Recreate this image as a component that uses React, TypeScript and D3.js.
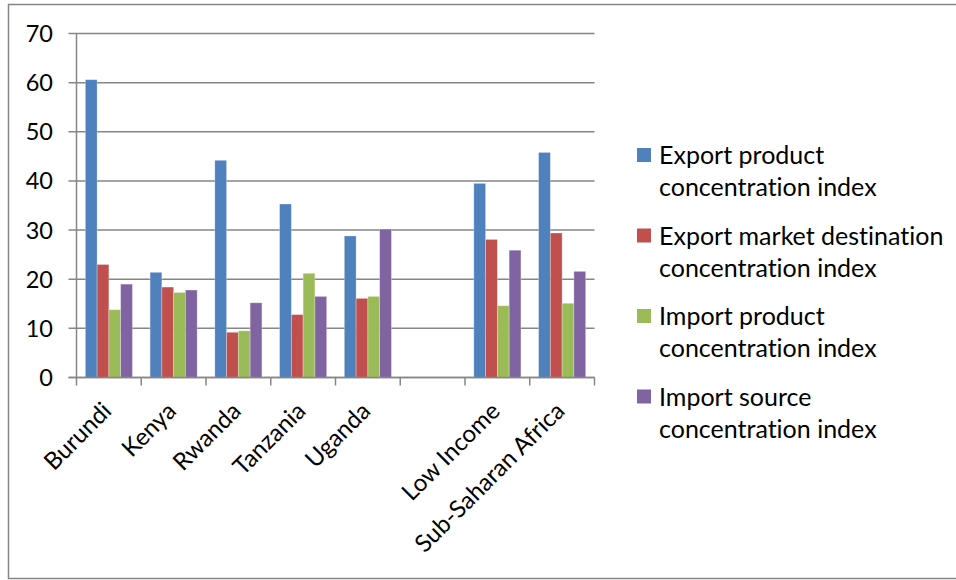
import React from "react";
import * as d3 from "d3";

// Concentration indices by country / group
const categories = ["Burundi", "Kenya", "Rwanda", "Tanzania", "Uganda", "", "Low Income", "Sub-Saharan Africa"];
const seriesNames = [
  "Export product concentration index",
  "Export market destination concentration index",
  "Import product concentration index",
  "Import source concentration index",
];
const legendLines = [
  ["Export product", "concentration index"],
  ["Export market destination", "concentration index"],
  ["Import product", "concentration index"],
  ["Import source", "concentration index"],
];
const exportProduct = [60.6, 21.4, 44.2, 35.3, 28.8, null, 39.5, 45.8];
const exportMarket = [23.0, 18.4, 9.2, 12.8, 16.1, null, 28.1, 29.4];
const importProduct = [13.8, 17.3, 9.5, 21.2, 16.5, null, 14.6, 15.1];
const importSource = [19.0, 17.8, 15.2, 16.5, 30.2, null, 25.9, 21.6];
const yTicks = [0, 10, 20, 30, 40, 50, 60, 70];
const colors = ["#4F81BD", "#C0504D", "#9BBB59", "#8064A2"];

const W = 956;
const H = 580;
const FONT = "Lato, 'Open Sans', sans-serif";

export default function App() {
  const series = [exportProduct, exportMarket, importProduct, importSource];
  const left = 76.5;
  const right = 594.5;
  const top = 33.5;
  const bottom = 377.5;

  const x = d3.scaleBand<string>().domain(categories.map((c, i) => String(i))).range([left, right]).paddingInner(0).paddingOuter(0);
  const y = d3.scaleLinear().domain([0, 70]).range([bottom, top]);
  const bw = x.bandwidth();
  const barW = bw / 5.5;
  const inner = d3.scaleBand<number>().domain([0, 1, 2, 3]).range([barW * 0.75, barW * 4.75]);

  const grid = "#868686";

  return (
    <div style={{ position: "fixed", left: 0, top: 0 }}>
      <svg
        width={W}
        height={H}
        style={{ display: "block", background: "#fff", fontVariantLigatures: "none" }}
        fontFamily={FONT}
      >
        <rect x={8.5} y={4.5} width={W + 10} height={574} fill="#fff" stroke="#868686" strokeWidth={1.5} />
        {/* gridlines */}
        {yTicks.map((t) => (
          <line key={"g" + t} x1={left - 8} x2={right} y1={y(t)} y2={y(t)} stroke={grid} strokeWidth={1.5} />
        ))}
        {/* bars */}
        {series.map((vals, s) =>
          vals.map((v, i) =>
            v == null ? null : (
              <rect
                key={`b${s}-${i}`}
                x={(x(String(i)) as number) + (inner(s) as number)}
                y={y(v)}
                width={barW}
                height={y(0) - y(v)}
                fill={colors[s]}
                stroke="rgba(255,255,255,0.35)"
                strokeWidth={0.8}
              />
            )
          )
        )}
        {/* y axis */}
        <line x1={left} x2={left} y1={top} y2={bottom} stroke={grid} strokeWidth={1.5} />
        {yTicks.map((t) => (
          <text key={"yt" + t} x={53} y={y(t)} dy="0.36em" textAnchor="end" fontSize={23.5} fill="#000">
            {t}
          </text>
        ))}
        {/* x axis */}
        <line x1={left - 8} x2={right} y1={bottom} y2={bottom} stroke={grid} strokeWidth={1.5} />
        {d3.range(categories.length + 1).map((i) => (
          <line key={"xt" + i} x1={left + i * bw} x2={left + i * bw} y1={bottom} y2={bottom + 8} stroke={grid} strokeWidth={1.5} />
        ))}
        {categories.map((c, i) =>
          c ? (
            <text
              key={"xl" + i}
              transform={`translate(${(x(String(i)) as number) + bw / 2 + 4},${bottom + 35}) rotate(-45)`}
              textAnchor="end"
              fontSize={24}
              fill="#000"
            >
              {c}
            </text>
          ) : null
        )}
        {/* legend */}
        {seriesNames.map((name, s) => {
          const ly = 155 + s * 80.5;
          return (
            <g key={"lg" + s} aria-label={name}>
              <rect x={637} y={ly - 7} width={14} height={14} fill={colors[s]} />
              {legendLines[s].map((ln, k) => (
                <text key={k} x={659} y={ly + k * 32} dy="0.36em" fontSize={25} fill="#000">
                  {ln}
                </text>
              ))}
            </g>
          );
        })}
      </svg>
    </div>
  );
}
